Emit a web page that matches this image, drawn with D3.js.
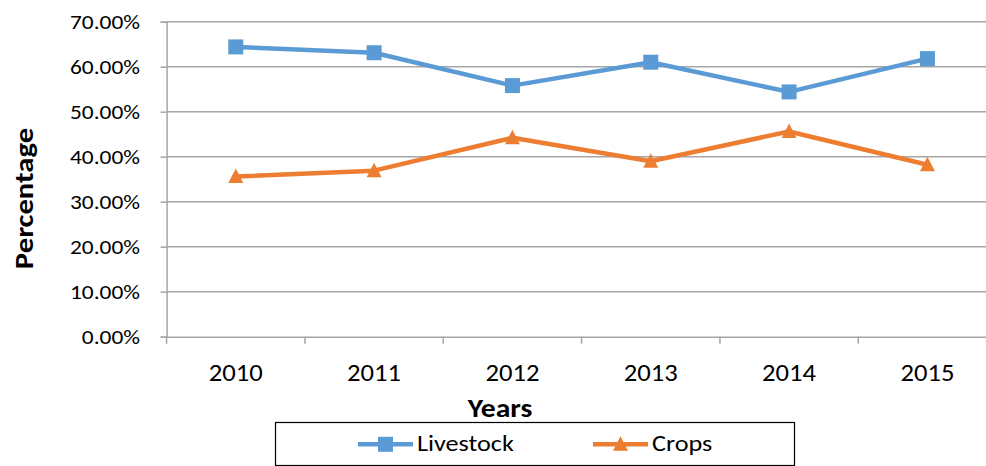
<!DOCTYPE html>
<html><head><meta charset="utf-8">
<script src="https://cdn.jsdelivr.net/npm/d3@7"></script>
<style>
html,body{margin:0;padding:0;background:#fff;}
svg{display:block;font-family:Carlito,Calibri,Lato,"Open Sans",sans-serif;}
</style></head>
<body>
<svg id="chart" width="986" height="466"></svg>
<script>
const years = ["2010","2011","2012","2013","2014","2015"];
const livestock = [64.4, 63.1, 55.8, 61.0, 54.4, 61.8];
const crops = [35.6, 36.9, 44.2, 39.0, 45.6, 38.2];
const yTicks = [0,10,20,30,40,50,60,70];
const seriesNames = ["Livestock","Crops"];

(function(){
const svg = d3.select("#chart");
const pL = 166.6, pR = 996.6, pT = 21.7, pB = 336.7;
const x = d3.scaleBand().domain(years).range([pL, pR]);
const y = d3.scaleLinear().domain([0,70]).range([pB, pT]);
const blue = "#5B9BD5", orange = "#ED7D31", grid = "#A6A6A6";
const ff = "Carlito,Calibri,Lato,'Open Sans',sans-serif";

svg.append("g").selectAll("line").data(yTicks.filter(d=>d>0)).join("line")
  .attr("x1", pL).attr("x2", pR)
  .attr("y1", d=>y(d)).attr("y2", d=>y(d))
  .attr("stroke", grid).attr("stroke-width", 1.5);

const ySx = 1.17;
const yAxis = svg.append("g").attr("transform",`translate(${pL},0)`)
  .call(d3.axisLeft(y).tickValues(yTicks).tickFormat(d=>d.toFixed(2)+"%").tickSize(6));
yAxis.select(".domain").attr("stroke", grid).attr("stroke-width",1.5);
yAxis.selectAll(".tick line").attr("stroke", grid).attr("stroke-width",1.5);
yAxis.selectAll("text").attr("font-size", 20).attr("fill","#000").attr("font-family",ff)
  .attr("x", -26.6/ySx).attr("dy","0.36em").attr("transform",`scale(${ySx},1)`);

const xSx = 1.11;
const xAxis = svg.append("g").attr("transform",`translate(0,${pB})`)
  .call(d3.axisBottom(x).tickSize(0));
xAxis.select(".domain").attr("stroke", grid).attr("stroke-width",1.5);
xAxis.selectAll("text").attr("font-size", 24).attr("fill","#000").attr("font-family",ff)
  .attr("dy",null).attr("y", 381-pB).attr("transform",`scale(${xSx},1)`);
svg.append("g").selectAll("line").data(years).join("line")
  .attr("x1", d=>x(d)).attr("x2", d=>x(d))
  .attr("y1", pB).attr("y2", pB+7)
  .attr("stroke", grid).attr("stroke-width",1.5);

const cx = d=>x(d)+x.bandwidth()/2;
const line = d3.line().x((d,i)=>cx(years[i])).y(d=>y(d));
const tri = "M0,-8L7.5,6.5L-7.5,6.5Z";

function drawSeries(vals, color, shape){
  svg.append("path").datum(vals).attr("d", line)
    .attr("fill","none").attr("stroke", color).attr("stroke-width", 4.5).attr("stroke-linejoin","round");
  const g = svg.append("g");
  if(shape==="square"){
    g.selectAll("rect").data(vals).join("rect")
      .attr("x",(d,i)=>cx(years[i])-7.5).attr("y",d=>y(d)-7.5)
      .attr("width",15).attr("height",15).attr("fill",color);
  } else {
    g.selectAll("path").data(vals).join("path")
      .attr("d", tri).attr("transform",(d,i)=>`translate(${cx(years[i])},${y(d)})`)
      .attr("fill",color);
  }
}
drawSeries(livestock, blue, "square");
drawSeries(crops, orange, "triangle");

svg.append("text").attr("transform","translate(500,416.5) scale(1.14,1)").attr("text-anchor","middle")
  .attr("font-size", 26).attr("font-weight","bold").text("Years");
svg.append("text").attr("transform","translate(33,198.5) rotate(-90) scale(1.18,1)").attr("text-anchor","middle")
  .attr("font-size", 26).attr("font-weight","bold").text("Percentage");

svg.append("rect").attr("x",275.5).attr("y",422.5).attr("width",519).attr("height",43)
  .attr("fill","#fff").attr("stroke","#000").attr("stroke-width",1.2);
const legendX = [358, 593];
const legColors = [blue, orange];
seriesNames.forEach((n,i)=>{
  const lx = legendX[i], ly = 444.3;
  svg.append("line").attr("x1",lx).attr("x2",lx+55).attr("y1",ly).attr("y2",ly)
    .attr("stroke",legColors[i]).attr("stroke-width",4.5);
  if(i===0){
    svg.append("rect").attr("x",lx+27.5-7.5).attr("y",ly-7.5).attr("width",15).attr("height",15).attr("fill",legColors[i]);
  } else {
    svg.append("path").attr("d",tri).attr("transform",`translate(${lx+27.5},${ly})`).attr("fill",legColors[i]);
  }
  svg.append("text").attr("transform",`translate(${lx+59},451) scale(1.19,1)`).attr("font-size",22).text(n);
});
})();
</script>
</body></html>
